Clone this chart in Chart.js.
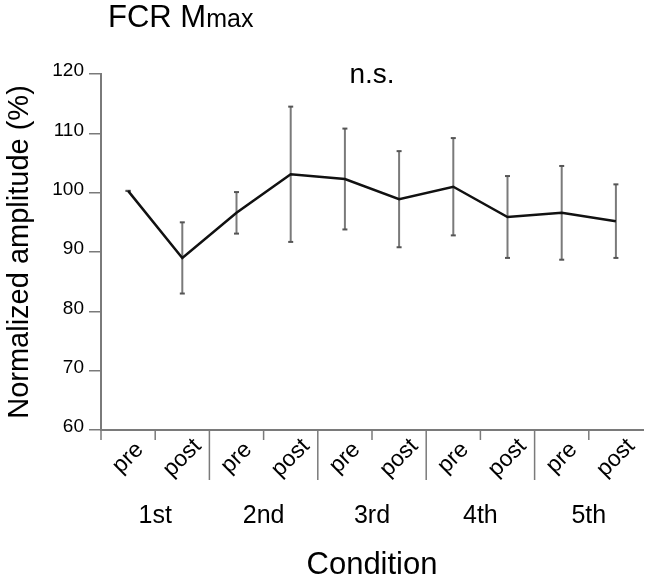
<!DOCTYPE html>
<html>
<head>
<meta charset="utf-8">
<script src="https://cdn.jsdelivr.net/npm/chart.js@4.4.1/dist/chart.umd.min.js"></script>
<style>
  html, body { margin: 0; padding: 0; background: #fff; }
  canvas { display: block; }
</style>
</head>
<body>
<canvas id="grafico" width="646" height="581"></canvas>
<script>
// dados
const fases = ['pre', 'post', 'pre', 'post', 'pre', 'post', 'pre', 'post', 'pre', 'post'];
const grupos = ['1st', '2nd', '3rd', '4th', '5th'];
const medias = [100.3, 89.0, 96.6, 103.1, 102.3, 98.9, 101.0, 95.9, 96.6, 95.2];
const erros = [0, 6.0, 3.5, 11.4, 8.5, 8.1, 8.2, 6.9, 7.9, 6.2];
const yMin = 60;
const yMax = 120;
const yPasso = 10;

const fonte = "'Liberation Sans', Arial, Helvetica, sans-serif";
const cinza = '#7a7a7a';

function linha(ctx, x1, y1, x2, y2) {
    ctx.beginPath();
    ctx.moveTo(x1, y1);
    ctx.lineTo(x2, y2);
    ctx.stroke();
}

const extras = {
    id: 'extras',
    beforeDatasetsDraw(chart) {
        const { ctx, scales: { x, y } } = chart;
        ctx.save();
        erros.forEach(function (e, i) {
            const px = x.getPixelForValue(i);
            const topo = y.getPixelForValue(medias[i] + e);
            const base = y.getPixelForValue(medias[i] - e);
            ctx.strokeStyle = cinza;
            ctx.lineWidth = 2;
            linha(ctx, px, topo, px, base);
            ctx.strokeStyle = '#555';
            linha(ctx, px - 2.5, topo, px + 2.5, topo);
            linha(ctx, px - 2.5, base, px + 2.5, base);
        });
        ctx.restore();
    },
    afterDraw(chart) {
        const { ctx, scales: { x, y }, chartArea } = chart;
        const largura = x.getPixelForValue(1) - x.getPixelForValue(0);
        const yEixo = chartArea.bottom;
        ctx.save();

        // marcas do eixo x (curtas entre pre/post, longas entre condições)
        ctx.strokeStyle = cinza;
        ctx.lineWidth = 1.5;
        for (let k = 0; k < fases.length; k++) {
            const bx = x.getPixelForValue(k) - largura / 2;
            const comp = (k > 0 && k % 2 === 0) ? 50 : 10;
            linha(ctx, bx, yEixo, bx, yEixo + comp);
        }

        // rótulos pre / post inclinados
        ctx.fillStyle = '#000';
        ctx.font = '23px ' + fonte;
        ctx.textAlign = 'center';
        ctx.textBaseline = 'middle';
        fases.forEach(function (f, i) {
            const px = x.getPixelForValue(i);
            ctx.save();
            ctx.translate(px, yEixo + 28);
            ctx.rotate(-Math.PI / 4);
            ctx.fillText(f, 0, 0);
            ctx.restore();
        });

        // rótulos das condições
        ctx.font = '25px ' + fonte;
        grupos.forEach(function (g, i) {
            const px = (x.getPixelForValue(2 * i) + x.getPixelForValue(2 * i + 1)) / 2;
            ctx.fillText(g, px, yEixo + 86);
        });

        // n.s.
        ctx.textBaseline = 'alphabetic';
        ctx.font = '28px ' + fonte;
        ctx.fillText('n.s.', (chartArea.left + chartArea.right) / 2, 83);

        // título FCR Mmax
        ctx.textAlign = 'left';
        ctx.font = '31px ' + fonte;
        ctx.fillText('FCR M', 108, 27);
        const w = ctx.measureText('FCR M').width;
        ctx.font = '25px ' + fonte;
        ctx.fillText('max', 108 + w, 27);

        ctx.restore();
    }
};

const dados = {
    labels: fases,
    datasets: [{
        data: medias,
        borderColor: '#111',
        borderWidth: 2.5,
        pointRadius: 0,
        tension: 0,
        fill: false
    }]
};

const config = {
    type: 'line',
    data: dados,
    options: {
        responsive: false,
        animation: false,
        events: [],
        layout: {
            padding: { top: 74, right: 3, left: 0, bottom: 0 }
        },
        plugins: {
            legend: { display: false },
            tooltip: { enabled: false },
            title: { display: false }
        },
        scales: {
            x: {
                type: 'category',
                offset: true,
                grid: { display: false },
                ticks: { display: false },
                border: { display: true, color: cinza, width: 2 },
                title: {
                    display: true,
                    text: 'Condition',
                    color: '#000',
                    font: { family: fonte, size: 31, lineHeight: 1 },
                    padding: 0
                },
                afterFit: function (s) { s.height = 151; }
            },
            y: {
                min: yMin,
                max: yMax,
                ticks: {
                    stepSize: yPasso,
                    color: '#000',
                    padding: 5,
                    labelOffset: -3,
                    font: { family: fonte, size: 19 }
                },
                grid: {
                    drawOnChartArea: false,
                    drawTicks: true,
                    tickLength: 12,
                    color: cinza,
                    lineWidth: 1.5
                },
                border: { display: true, color: cinza, width: 2 },
                title: {
                    display: true,
                    text: 'Normalized amplitude (%)',
                    color: '#000',
                    font: { family: fonte, size: 29, lineHeight: 1.2 },
                    padding: { top: 3, bottom: 0 }
                },
                afterFit: function (s) { s.width = 101; }
            }
        }
    },
    plugins: [extras]
};

const ctx = document.getElementById('grafico').getContext('2d');
new Chart(ctx, config);
</script>
</body>
</html>
